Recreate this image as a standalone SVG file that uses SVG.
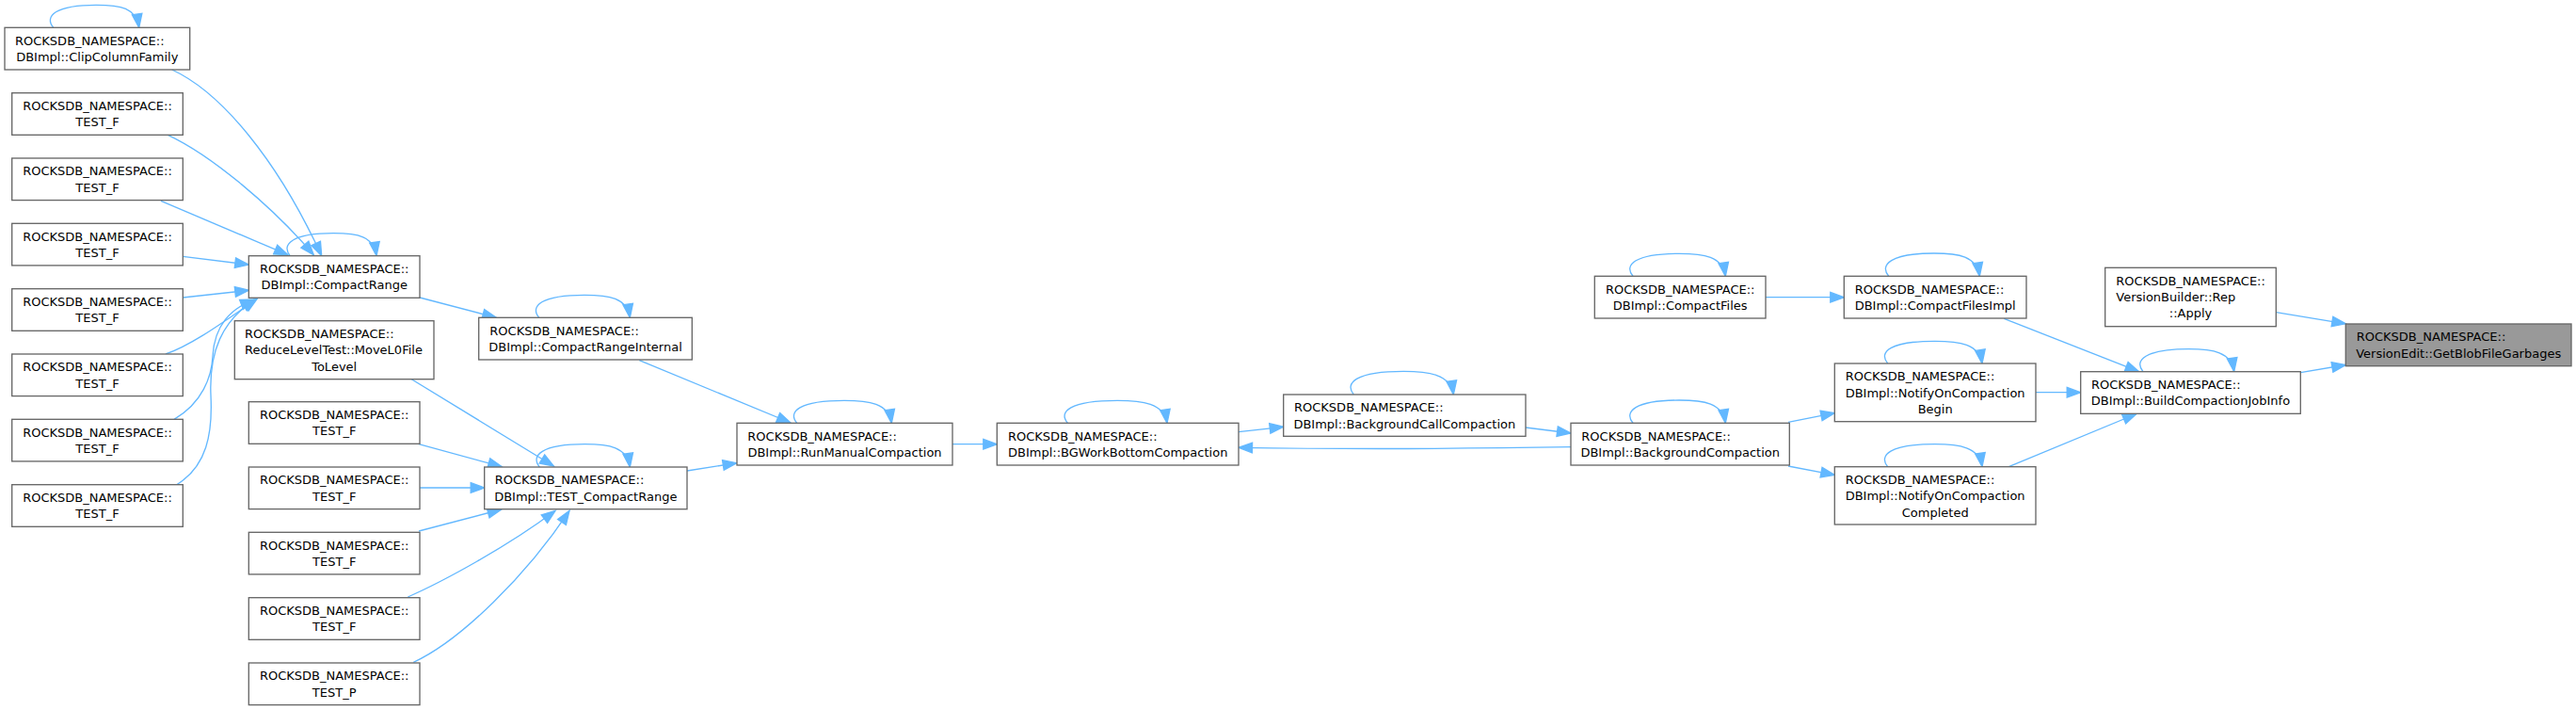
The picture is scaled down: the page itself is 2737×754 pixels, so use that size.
<svg xmlns="http://www.w3.org/2000/svg" width="2737" height="754" viewBox="0 0 2737 754">
<style>
.n rect{fill:#ffffff;stroke:#666666;stroke-width:1.33}
.n.hl rect{fill:#999999}
.n text{font-family:"DejaVu Sans","Liberation Sans",sans-serif;font-size:13px;fill:#000000}
.n text.c{text-anchor:middle}
#edges path{fill:none;stroke:#63b8ff;stroke-width:1.33;marker-end:url(#ah)}
</style>
<defs>
<marker id="ah" markerUnits="userSpaceOnUse" viewBox="-16 -7 17 14" refX="0" refY="0" markerWidth="17" markerHeight="14" orient="auto" overflow="visible">
<path d="M-14.5,-5.3 L0,0 L-14.5,5.3 Z" fill="#63b8ff" stroke="#63b8ff" stroke-width="1.33"/>
</marker>
</defs>
<rect x="0" y="0" width="2737" height="754" fill="#ffffff"/>
<g id="edges">
<path d="M56.7,29.3 C46.7,17.3 58.7,5.3 102.2,5.3 C128.2,5.3 144.7,8.3 147.7,29.3"/>
<path d="M308.3,271.7 C298.3,259.7 310.3,247.7 354.2,247.7 C380.2,247.7 397,250.7 400,271.7"/>
<path d="M572.7,337.3 C562.7,325.3 574.7,313.3 621,313.3 C647,313.3 666.3,316.3 669.3,337.3"/>
<path d="M573.3,496 C563.3,484 575.3,471.7 621.3,471.7 C647.3,471.7 666.3,474.7 669.3,496"/>
<path d="M846.7,449.3 C836.7,437.3 848.7,425.3 897,425.3 C923,425.3 944.3,428.3 947.3,449.3"/>
<path d="M1134.3,449.3 C1124.3,437.3 1136.3,425.3 1187.2,425.3 C1213.2,425.3 1237,428.3 1240,449.3"/>
<path d="M1438.3,419 C1428.3,407 1440.3,394.3 1491.3,394.3 C1517.3,394.3 1541.3,397.3 1544.3,419"/>
<path d="M1735,449.3 C1725,437.3 1737,425 1784.2,425 C1810.2,425 1830.3,428 1833.3,449.3"/>
<path d="M1735,293.3 C1725,281.3 1737,269.3 1784.2,269.3 C1810.2,269.3 1830.3,272.3 1833.3,293.3"/>
<path d="M2006.7,293.3 C1996.7,281.3 2008.7,269 2055,269 C2081,269 2100.3,272 2103.3,293.3"/>
<path d="M2005.7,386 C1995.7,374 2007.7,362.3 2055.8,362.3 C2081.8,362.3 2103,365.3 2106,386"/>
<path d="M2005.7,495.7 C1995.7,483.7 2007.7,471.7 2055.8,471.7 C2081.8,471.7 2103,474.7 2106,495.7"/>
<path d="M2277,394.7 C2267,382.7 2279,370.7 2325.3,370.7 C2351.3,370.7 2370.7,373.7 2373.7,394.7"/>
<path d="M182.7,74 C235,98 295,170 341.7,271.7"/>
<path d="M178.3,143.3 C225,165 290,220 333.3,270.7"/>
<path d="M171,213.3 L306,270.7"/>
<path d="M194.3,272.3 L264.3,281"/>
<path d="M194.3,316 L264.3,308.3"/>
<path d="M176,376 C205,366 240,340 273,317.5"/>
<path d="M185,445.3 C215,428 225,400 226,378 C228,345 245,328 270,318"/>
<path d="M187.7,514.7 C220,495 226,460 224,420 C222,375 235,340 272,318"/>
<path d="M446,316 L527.3,337.3"/>
<path d="M437.3,402.7 L588.3,495"/>
<path d="M445,471.7 L533.3,495.7"/>
<path d="M446,518 L514.7,518"/>
<path d="M445,564 L532.7,541"/>
<path d="M433.3,634 C470,618 540,580 590,542.3"/>
<path d="M439.3,703.3 C490,680 560,610 605,542.3"/>
<path d="M730,500 L782.7,491.7"/>
<path d="M679.3,382.7 L840,449"/>
<path d="M1012,471.7 L1059.3,471.7"/>
<path d="M1316,458.7 L1363.7,453.3"/>
<path d="M1621,454 L1669,460"/>
<path d="M1669,474.7 C1560,476.5 1420,477 1316,475.3"/>
<path d="M1876,315.7 L1959.3,315.7"/>
<path d="M1900,448.3 L1949.3,438.7"/>
<path d="M1900,495 L1949.3,504.3"/>
<path d="M2129.3,338.3 L2272.7,394.7"/>
<path d="M2163,416.7 L2210.7,416.7"/>
<path d="M2134.3,495.7 L2270,439.5"/>
<path d="M2418.3,331.7 L2492.3,343.8"/>
<path d="M2444.3,395.7 L2492.3,387.5"/>
</g>
<g id="clip" class="n"><rect x="5" y="29.3" width="196.7" height="44.7"/><text x="16" y="47.7">ROCKSDB_NAMESPACE::</text><text class="c" x="103.3" y="65">DBImpl::ClipColumnFamily</text></g>
<g id="tf1" class="n"><rect x="12.7" y="98.7" width="181.6" height="44.6"/><text class="c" x="103.5" y="117.1">ROCKSDB_NAMESPACE::</text><text class="c" x="103.5" y="134.4">TEST_F</text></g>
<g id="tf2" class="n"><rect x="12.7" y="168" width="181.6" height="44.6"/><text class="c" x="103.5" y="186.4">ROCKSDB_NAMESPACE::</text><text class="c" x="103.5" y="203.7">TEST_F</text></g>
<g id="tf3" class="n"><rect x="12.7" y="237.3" width="181.6" height="44.6"/><text class="c" x="103.5" y="255.7">ROCKSDB_NAMESPACE::</text><text class="c" x="103.5" y="273">TEST_F</text></g>
<g id="tf4" class="n"><rect x="12.7" y="306.7" width="181.6" height="44.6"/><text class="c" x="103.5" y="325.1">ROCKSDB_NAMESPACE::</text><text class="c" x="103.5" y="342.4">TEST_F</text></g>
<g id="tf5" class="n"><rect x="12.7" y="376" width="181.6" height="44.6"/><text class="c" x="103.5" y="394.4">ROCKSDB_NAMESPACE::</text><text class="c" x="103.5" y="411.7">TEST_F</text></g>
<g id="tf6" class="n"><rect x="12.7" y="445.3" width="181.6" height="44.6"/><text class="c" x="103.5" y="463.7">ROCKSDB_NAMESPACE::</text><text class="c" x="103.5" y="481">TEST_F</text></g>
<g id="tf7" class="n"><rect x="12.7" y="514.7" width="181.6" height="44.6"/><text class="c" x="103.5" y="533.1">ROCKSDB_NAMESPACE::</text><text class="c" x="103.5" y="550.4">TEST_F</text></g>
<g id="cr" class="n"><rect x="264.3" y="271.7" width="181.7" height="44.6"/><text class="c" x="355.2" y="290.1">ROCKSDB_NAMESPACE::</text><text class="c" x="355.2" y="307.4">DBImpl::CompactRange</text></g>
<g id="reduce" class="n"><rect x="249.3" y="340.7" width="211.7" height="62"/><text x="260" y="359.1">ROCKSDB_NAMESPACE::</text><text x="260" y="376.4">ReduceLevelTest::MoveL0File</text><text class="c" x="355.2" y="393.7">ToLevel</text></g>
<g id="tfb1" class="n"><rect x="264.3" y="426.7" width="181.7" height="44.6"/><text class="c" x="355.2" y="445.1">ROCKSDB_NAMESPACE::</text><text class="c" x="355.2" y="462.4">TEST_F</text></g>
<g id="tfb2" class="n"><rect x="264.3" y="496" width="181.7" height="44.6"/><text class="c" x="355.2" y="514.4">ROCKSDB_NAMESPACE::</text><text class="c" x="355.2" y="531.7">TEST_F</text></g>
<g id="tfb3" class="n"><rect x="264.3" y="565.3" width="181.7" height="44.6"/><text class="c" x="355.2" y="583.7">ROCKSDB_NAMESPACE::</text><text class="c" x="355.2" y="601">TEST_F</text></g>
<g id="tfb4" class="n"><rect x="264.3" y="634.7" width="181.7" height="44.6"/><text class="c" x="355.2" y="653.1">ROCKSDB_NAMESPACE::</text><text class="c" x="355.2" y="670.4">TEST_F</text></g>
<g id="tp" class="n"><rect x="264.3" y="704" width="181.7" height="44.6"/><text class="c" x="355.2" y="722.4">ROCKSDB_NAMESPACE::</text><text class="c" x="355.2" y="739.7">TEST_P</text></g>
<g id="cri" class="n"><rect x="508.7" y="337.3" width="226.6" height="44.7"/><text x="520.3" y="355.7">ROCKSDB_NAMESPACE::</text><text class="c" x="622" y="373">DBImpl::CompactRangeInternal</text></g>
<g id="tcr" class="n"><rect x="514.7" y="496" width="215.3" height="44.7"/><text x="525.7" y="514.4">ROCKSDB_NAMESPACE::</text><text class="c" x="622.3" y="531.7">DBImpl::TEST_CompactRange</text></g>
<g id="rmc" class="n"><rect x="783" y="449.3" width="229" height="44.7"/><text x="794.3" y="467.7">ROCKSDB_NAMESPACE::</text><text class="c" x="897.5" y="485">DBImpl::RunManualCompaction</text></g>
<g id="bgw" class="n"><rect x="1059.3" y="449.3" width="256.7" height="44.7"/><text x="1071" y="467.7">ROCKSDB_NAMESPACE::</text><text class="c" x="1187.7" y="485">DBImpl::BGWorkBottomCompaction</text></g>
<g id="bgc" class="n"><rect x="1363.7" y="419" width="257.3" height="44.3"/><text x="1375" y="437.4">ROCKSDB_NAMESPACE::</text><text class="c" x="1492.3" y="454.7">DBImpl::BackgroundCallCompaction</text></g>
<g id="bgcomp" class="n"><rect x="1669" y="449.3" width="232.3" height="44.7"/><text x="1680.3" y="467.7">ROCKSDB_NAMESPACE::</text><text class="c" x="1785.2" y="485">DBImpl::BackgroundCompaction</text></g>
<g id="cf" class="n"><rect x="1694.3" y="293.3" width="181.7" height="44.7"/><text class="c" x="1785.2" y="311.7">ROCKSDB_NAMESPACE::</text><text class="c" x="1785.2" y="329">DBImpl::CompactFiles</text></g>
<g id="cfi" class="n"><rect x="1959.3" y="293.3" width="193.7" height="44.7"/><text x="1970.7" y="311.7">ROCKSDB_NAMESPACE::</text><text class="c" x="2056.2" y="329">DBImpl::CompactFilesImpl</text></g>
<g id="nb" class="n"><rect x="1949.3" y="386" width="213.7" height="61.7"/><text x="1960.7" y="404.4">ROCKSDB_NAMESPACE::</text><text x="1960.7" y="421.7">DBImpl::NotifyOnCompaction</text><text class="c" x="2056.2" y="439">Begin</text></g>
<g id="nc" class="n"><rect x="1949.3" y="495.7" width="213.7" height="61.3"/><text x="1960.7" y="514.1">ROCKSDB_NAMESPACE::</text><text x="1960.7" y="531.4">DBImpl::NotifyOnCompaction</text><text class="c" x="2056.2" y="548.7">Completed</text></g>
<g id="apply" class="n"><rect x="2236.7" y="284.3" width="181.6" height="62.4"/><text x="2248.3" y="302.7">ROCKSDB_NAMESPACE::</text><text x="2248.3" y="320">VersionBuilder::Rep</text><text class="c" x="2327.5" y="337.3">::Apply</text></g>
<g id="bcji" class="n"><rect x="2210.7" y="394.7" width="233.6" height="44.6"/><text x="2222" y="413.1">ROCKSDB_NAMESPACE::</text><text class="c" x="2327.5" y="430.4">DBImpl::BuildCompactionJobInfo</text></g>
<g id="gbf" class="n hl"><rect x="2492.3" y="344" width="239.7" height="44.7"/><text x="2503.7" y="362.4">ROCKSDB_NAMESPACE::</text><text class="c" x="2612.2" y="379.7">VersionEdit::GetBlobFileGarbages</text></g>
</svg>
